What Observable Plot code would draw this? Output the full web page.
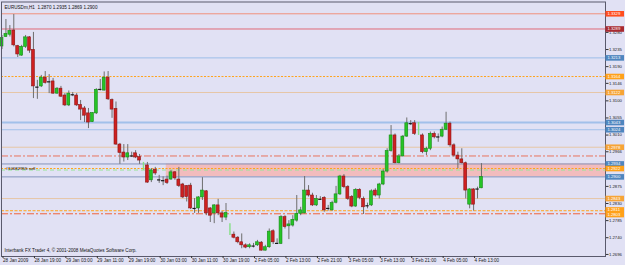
<!DOCTYPE html>
<html><head><meta charset="utf-8">
<script src="https://cdn.jsdelivr.net/npm/d3@7"></script>
<script src="https://cdn.jsdelivr.net/npm/@observablehq/plot@0.6"></script>
<style>
html,body{margin:0;padding:0;background:#e1e1f4;}
</style></head>
<body><div id="chart"></div>
<script>
// ---- data ----
const symbol = "EURUSDm", period = "H1";
const open  = [1.3243,1.3268,1.3274,1.3285,1.3244,1.3219,1.3242,1.3267,1.3234,1.3138,
1.3138,1.3161,1.3151,1.3151,1.3119,1.3132,1.3114,1.3088,1.3117,1.3114,
1.3089,1.3080,1.3067,1.3044,1.3067,1.3129,1.3127,1.3161,1.3102,1.3079,
1.2985,1.2964,1.2951,1.2956,1.2962,1.2952,null,1.2930,1.2891,1.2919,
1.2893,1.2891,1.2893,1.2893,1.2912,1.2893,1.2880,1.2876,1.2877,1.2819,
1.2817,1.2846,1.2862,1.2817,1.2804,1.2825,1.2804,1.2793,null,1.2748,
1.2740,1.2728,1.2720,1.2715,1.2720,1.2720,1.2727,1.2706,1.2715,1.2757,
1.2727,1.2724,1.2794,1.2770,1.2772,1.2785,1.2803,1.2804,1.2864,1.2851,
1.2825,1.2842,1.2845,1.2815,1.2812,1.2832,1.2854,1.2901,1.2873,1.2847,
1.2822,1.2866,1.2842,1.2825,1.2825,1.2864,1.2851,1.2880,1.2914,1.2968,
1.3009,1.2936,1.2954,1.3006,1.3041,1.3041,null,1.3009,1.2965,1.2974,
1.3013,1.3006,1.3006,1.3024,1.3040,1.2983,1.2956,1.2946,1.2936,1.2827,
1.2867,1.2869,1.2870];
const high  = [1.3272,1.3314,1.3298,1.3327,1.3246,1.3246,1.3272,1.3269,1.3280,1.3154,
1.3167,1.3177,1.3169,1.3159,1.3135,1.3138,1.3119,1.3126,1.3122,1.3119,
1.3101,1.3085,1.3080,1.3069,1.3132,1.3156,1.3176,1.3177,1.3105,1.3097,
1.2988,1.2985,1.2985,1.2965,1.2969,1.2959,null,1.2938,1.2922,1.2925,
1.2904,1.2900,1.2902,1.2917,1.2914,1.2925,1.2883,1.2877,1.2883,1.2843,
1.2848,1.2898,1.2864,1.2819,1.2827,1.2841,1.2809,1.2830,null,1.2755,
1.2743,1.2750,1.2724,1.2724,1.2725,1.2733,1.2730,1.2720,1.2763,1.2761,
1.2737,1.2798,1.2798,1.2785,1.2798,1.2851,1.2820,1.2901,1.2877,1.2857,
1.2851,1.2848,1.2848,1.2825,1.2836,1.2875,1.2904,1.2906,1.2877,1.2851,
1.2869,1.2869,1.2847,1.2831,1.2866,1.2869,1.2883,1.2919,1.2974,1.3035,
1.3013,1.2959,1.3009,1.3055,1.3048,1.3048,null,1.3013,1.2978,1.3018,
1.3018,1.3013,1.3031,1.3070,1.3044,1.2987,1.2965,1.2974,1.2939,1.2869,
1.2869,1.2873,1.2935];
const low   = [1.3235,1.3267,1.3268,1.3242,1.3214,1.3217,1.3238,1.3225,1.3106,1.3104,
1.3135,1.3144,1.3119,1.3117,1.3117,1.3109,1.3085,1.3085,1.3111,1.3085,
1.3048,1.3043,1.3027,1.3043,1.3064,1.3126,1.3126,1.3101,1.3054,1.2983,
1.2933,1.2939,1.2943,1.2951,1.2948,1.2933,null,1.2883,1.2885,1.2904,
1.2883,1.2877,1.2880,1.2891,1.2891,1.2872,1.2843,1.2834,1.2814,1.2804,
1.2804,1.2838,1.2798,1.2780,1.2777,1.2798,1.2780,1.2785,null,1.2737,
1.2724,1.2711,1.2711,1.2711,1.2713,1.2717,1.2705,1.2705,1.2712,1.2722,
1.2722,1.2722,1.2763,1.2735,1.2768,1.2781,1.2798,1.2803,1.2847,1.2822,
1.2822,1.2838,1.2807,1.2810,1.2810,1.2829,1.2851,1.2869,1.2838,1.2819,
1.2820,1.2840,1.2801,1.2816,1.2822,1.2847,1.2842,1.2877,1.2910,1.2965,
1.2934,1.2934,1.2952,1.3004,1.3035,1.3009,null,1.2961,1.2956,1.2969,
1.3000,1.2991,1.3003,1.3022,1.2978,1.2952,1.2921,1.2934,1.2842,1.2816,
1.2810,1.2842,1.2869];
const close = [1.3265,1.3276,1.3284,1.3246,1.3222,1.3242,1.3267,1.3232,1.3138,1.3136,
1.3161,1.3147,1.3150,1.3119,1.3132,1.3111,1.3088,1.3119,1.3116,1.3088,
1.3077,1.3061,1.3043,1.3068,1.3129,1.3130,1.3161,1.3104,1.3077,1.2985,
1.2963,1.2951,1.2962,1.2955,1.2951,1.2943,null,1.2885,1.2917,1.2909,
1.2892,1.2890,1.2884,1.2912,1.2896,1.2876,1.2846,1.2847,1.2817,1.2817,
1.2846,1.2864,1.2804,1.2798,1.2825,1.2804,1.2793,1.2805,null,1.2740,
1.2728,1.2720,1.2714,1.2720,1.2718,1.2728,1.2706,1.2715,1.2756,1.2728,
1.2725,1.2794,1.2768,1.2775,1.2787,1.2803,1.2812,1.2864,1.2851,1.2825,
1.2842,1.2841,1.2812,1.2817,1.2831,1.2854,1.2901,1.2873,1.2842,1.2822,
1.2866,1.2845,1.2820,1.2824,1.2862,1.2851,1.2880,1.2914,1.2968,1.3009,
1.2936,1.2954,1.3006,1.3041,1.3040,1.3013,null,1.2965,1.2974,1.3013,
1.3004,1.3005,1.3024,1.3040,1.2983,1.2956,1.2946,1.2936,1.2864,1.2867,
1.2827,1.2868,1.2900];
// trade marks (bar index, low price, high price)
const markIndex = [36, 58, 106];
const markLow   = [1.2917, 1.2746, 1.3009];
const markHigh  = [1.2938, 1.2777, 1.3043];
// horizontal levels
const levelPrices = [1.3329,1.3289,1.3213,1.3164,1.3122,1.3043,1.3024,1.2978,1.2955,1.2934,1.2922,1.2918,1.2900,1.2843,1.2811,1.2803];
const levelLabeled = [true,true,true,true,true,true,true,true,false,true,true,false,true,true,true,true];
// zone rectangle
const zoneStart = 41.8, zoneTop = 1.2934, zoneBottom = 1.2900;
// order
const orderText = "#10682955 sell", orderPrice = 1.2922;
// axis ticks
const timeTickIndex = [0,8,16,24,32,40,48,56,64,72,80,88,96,104,112,120];
const timeTickLabels = ["28 Jan 2009","28 Jan 19:00","29 Jan 03:00","29 Jan 11:00","29 Jan 19:00","30 Jan 03:00","30 Jan 11:00","30 Jan 19:00","2 Feb 05:00","2 Feb 13:00","2 Feb 21:00","3 Feb 05:00","3 Feb 13:00","3 Feb 21:00","4 Feb 05:00","4 Feb 13:00"];
const priceTicks = [1.3280,1.3235,1.3190,1.3146,1.3100,1.3055,1.3010,1.2966,1.2875,1.2830,1.2785,1.2740,1.2696];
const copyright = "Interbank FX Trader 4, \u00a9 2001-2008 MetaQuotes Software Corp.";

// ---- styles (kept separate from data) ----
const levelStyle = [
 {stroke:"#f0907c"},
 {stroke:"#e06a78"},
 {stroke:"#9cbde8"},
 {stroke:"#ffa31a", dash:"2,1.5"},
 {stroke:"#e6c6a6"},
 {stroke:"#a2c0ea", width:2},
 {stroke:"#a2c0ea"},
 {stroke:"#e6c6a6"},
 {stroke:"#e8745e", dash:"7,2,2,2"},
 {stroke:"#8494bc"},
 {stroke:"#ffa31a", dash:"2,1.5"},
 {stroke:"#9be59b", dash:"4,3"},
 {stroke:"#8494bc"},
 {stroke:"#e6c6a6"},
 {stroke:"#ffa31a", dash:"3,1.5"},
 {stroke:"#f0643c", dash:"7,2,2,2"}
];
const labelBg = ["#ff4d1f","#a82a30","#4f86bf","#ffa11a","#f6a437","#4f86bf","#4f86bf","#f6a437",null,"#4f86bf","#ffa11a",null,"#4f86bf","#f6a437","#ffa11a","#ffa11a"];

const W = 625, H = 265;
const mL = 1, mR = 20, mT = 1.5, mB = 9;
const step = 3.93, firstX = 1.5;
const xDomain = [(mL - firstX)/step, (W - mR - firstX)/step];
const gutter = (mR - 1)/step;
const yDomain = [1.26906, 1.33600];
const pxPerUnit = (H - mB - mT) / (yDomain[1] - yDomain[0]);

const bars = open.map((o,i) => o == null ? null : {i, o, h: high[i], l: low[i], c: close[i]}).filter(Boolean);
const isDoji = d => Math.abs(d.c - d.o) <= 0.00025;
const bodies = bars.filter(d => !isDoji(d));
const dojis = bars.filter(isDoji);
const marks = markIndex.map((i,k) => ({i, lo: markLow[k], hi: markHigh[k]}));
const levels = levelPrices.map((p,k) => ({p, style: levelStyle[k], labeled: levelLabeled[k], bg: labelBg[k]}));
const labeled = levels.filter(d => d.labeled).sort((a,b) => b.p - a.p);
// simple collision avoidance for the right-hand price labels (pixel nudges)
const minGap = 4.6;
labeled.forEach(d => d.dy = 0);
for (let k = 1; k < labeled.length; k++) {
  const gap = (labeled[k-1].p - labeled[k].p) * pxPerUnit;
  if (gap < minGap) { const s = (minGap - gap) / 2; labeled[k-1].dy -= s; labeled[k].dy += s; }
}
const last = bars[bars.length-1];
const header = `${symbol},${period}  ${last.o.toFixed(4)} ${last.h.toFixed(4)} ${last.l.toFixed(4)} ${last.c.toFixed(4)}`;
const hw = 0.37;

const chart = Plot.plot({
  width: W, height: H,
  marginLeft: mL, marginRight: mR, marginTop: mT, marginBottom: mB,
  style: {background: "#e1e1f4", fontFamily: "'Liberation Sans', Arial, sans-serif", overflow: "visible"},
  x: {type: "linear", domain: xDomain},
  y: {type: "linear", domain: yDomain},
  marks: [
    Plot.rect([{x1: zoneStart, x2: xDomain[1], y1: zoneBottom, y2: zoneTop}], {x1: "x1", x2: "x2", y1: "y1", y2: "y2", fill: "#f2b9b9", fillOpacity: 0.95}),
    ...levels.map(l => Plot.ruleY([l.p], {stroke: l.style.stroke, strokeWidth: l.style.width || 1, strokeDasharray: l.style.dash})),
    Plot.ruleX(bars, {x: "i", y1: "l", y2: "h", stroke: "#6e6e6e", strokeWidth: 1}),
    Plot.rect(bodies, {x1: d => d.i - hw, x2: d => d.i + hw, y1: "o", y2: "c",
      fill: d => d.c > d.o ? "#26c426" : "#cf2020",
      stroke: d => d.c > d.o ? "#178a17" : "#8a1616", strokeWidth: 0.6}),
    Plot.ruleY(dojis, {y: "c", x1: d => d.i - hw - 0.05, x2: d => d.i + hw + 0.05, stroke: "#1a1a1a", strokeWidth: 1.2}),
    Plot.ruleX(marks, {x: "i", y1: "lo", y2: "hi", stroke: "#84e084", strokeWidth: 1.4}),
    Plot.frame({stroke: "#5a5a6c"}),
    Plot.axisY(priceTicks, {anchor: "right", label: null, tickSize: 2.5, tickPadding: 1, fontSize: 4.2, fill: "#1a1a1a", stroke: "#333", tickFormat: d => d.toFixed(4)}),
    ...labeled.map(d => Plot.ruleY([d], {y: "p", dy: d.dy, x1: xDomain[1] + 0.1, x2: xDomain[1] + gutter, stroke: "bg", strokeWidth: 5.6})),
    ...labeled.map(d => Plot.text([d], {y: "p", dy: d.dy, x: xDomain[1] + 0.5, text: v => v.p.toFixed(4), fill: "white", textAnchor: "start", fontSize: 4.2})),
    Plot.axisX(timeTickIndex, {anchor: "bottom", label: null, tickSize: 2, tickPadding: 0.5, fontSize: 4.6, textAnchor: "start", dx: 1, fill: "#1a1a1a", stroke: "#333", tickFormat: d => timeTickLabels[timeTickIndex.indexOf(d)]}),
    Plot.text([header], {frameAnchor: "top-left", dx: 3, dy: 3.6, text: d => d, fontSize: 4.6, textAnchor: "start", fill: "#111"}),
    Plot.text([copyright], {frameAnchor: "bottom-left", dx: 3, dy: -4.3, text: d => d, fontSize: 4.6, textAnchor: "start", fill: "#111"}),
    Plot.text([orderText], {y: () => orderPrice, frameAnchor: "left", dx: 4, text: d => d, fontSize: 4.4, textAnchor: "start", fill: "#111"})
  ]
});
document.getElementById("chart").appendChild(chart);
</script>
</body></html>
